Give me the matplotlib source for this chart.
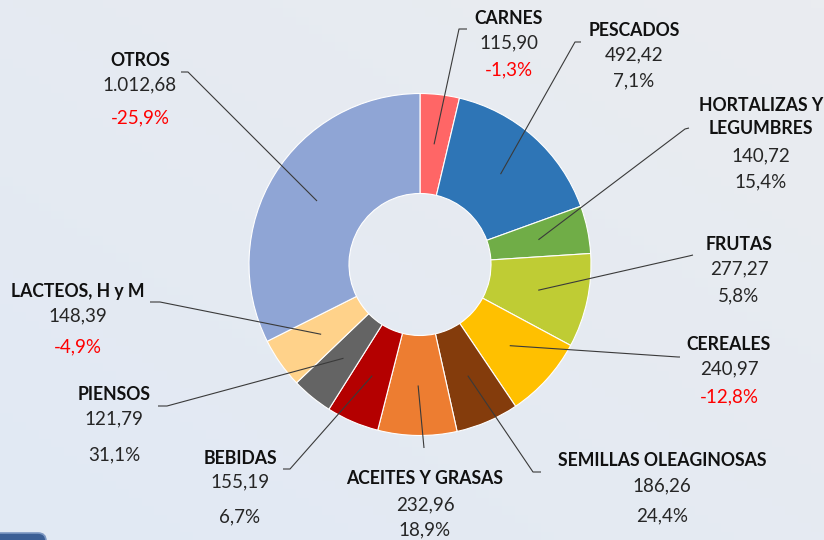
import matplotlib.pyplot as plt
from matplotlib.patches import FancyBboxPatch
import numpy as np

# data
categories = ["CARNES", "PESCADOS", "HORTALIZAS Y\nLEGUMBRES", "FRUTAS", "CEREALES",
              "SEMILLAS OLEAGINOSAS", "ACEITES Y GRASAS", "BEBIDAS", "PIENSOS",
              "LACTEOS, H y M", "OTROS"]
values = [115.90, 492.42, 140.72, 277.27, 240.97, 186.26, 232.96, 155.19, 121.79, 148.39, 1012.68]
value_labels = ["115,90", "492,42", "140,72", "277,27", "240,97", "186,26", "232,96",
                "155,19", "121,79", "148,39", "1.012,68"]
changes = [-1.3, 7.1, 15.4, 5.8, -12.8, 24.4, 18.9, 6.7, 31.1, -4.9, -25.9]

colors = ["#ff6666", "#2e75b6", "#70ad47", "#bfcc34", "#ffc000", "#843c0c",
          "#ed7d31", "#b40000", "#646464", "#ffd28a", "#8fa5d5"]

W, H = 824, 540

# label layout in pixel coords (y from top): x, y name, y value, y pct
label_pos = [
    (509, 18, 43, 70),
    (634, 31, 55, 81),
    (761, 117, 156, 182),
    (739, 244, 269, 296),
    (729, 345, 369, 397),
    (662, 461, 486, 516),
    (425, 479, 505, 530),
    (240, 458, 482, 517),
    (114, 395, 419, 455),
    (78, 292, 316, 347),
    (140, 61, 85, 118),
]
# leader line end points near the text (outer end, elbow)
leader_ends = [
    ((467, 29), (459, 29)),
    ((581, 42), (575, 42)),
    ((689, 128), (685, 129)),
    ((693, 255), (689, 256)),
    ((680, 357), (678, 357)),
    ((541, 472), (533, 472)),
    ((424, 448), (424, 448)),
    ((283, 469), (290, 469)),
    ((158, 406), (167, 406)),
    ((150, 302), (160, 302)),
    ((181, 72), (188, 72)),
]

def py(y):
    return H - y

plt.rcParams['font.family'] = ['Lato', 'DejaVu Sans']

fig = plt.figure(figsize=(W / 100, H / 100), dpi=100)
ax = fig.add_axes([0, 0, 1, 1])

# background gradient
gx = np.linspace(0, 1, 64)
gy = np.linspace(0, 1, 64)
GX, GY = np.meshgrid(gx, gy)
t = (GX + GY) / 2
c0 = np.array([0xe1, 0xe9, 0xf4]) / 255
c1 = np.array([0xea, 0xec, 0xf0]) / 255
img = c0[None, None, :] * (1 - t[..., None]) + c1[None, None, :] * t[..., None]
ax.imshow(img, extent=[0, W, H, 0], origin='upper', zorder=0, aspect='auto')

cx, cy = 420, py(264.5)
R, r_in = 171, 71
wedges, _ = ax.pie(values, colors=colors, startangle=90, counterclock=False,
                   radius=R, center=(cx, cy),
                   wedgeprops=dict(width=R - r_in, edgecolor='white', linewidth=0.8))
for w in wedges:
    w.set_zorder(2)

r_mid = (R + r_in) / 2
for i, w in enumerate(wedges):
    ang = np.deg2rad((w.theta1 + w.theta2) / 2)
    ax_x = cx + r_mid * np.cos(ang)
    ax_y = cy + r_mid * np.sin(ang)
    (ox, oy), (ex, ey) = leader_ends[i]
    ax.plot([ox, ex, ax_x], [py(oy), py(ey), ax_y], color="#3a3a3a", lw=0.8,
            zorder=3, solid_capstyle='butt')

    x, yn, yv, yp = label_pos[i]
    ax.text(x, py(yn), categories[i], ha='center', va='center', fontsize=12.7,
            fontweight='bold', color='#111111', linespacing=1.4, zorder=4)
    ax.text(x, py(yv), value_labels[i], ha='center', va='center', fontsize=13.5,
            color='#262626', zorder=4)
    pct = f"{changes[i]:.1f}%".replace(".", ",")
    ax.text(x, py(yp), pct, ha='center', va='center', fontsize=13.5,
            color='#ff0000' if changes[i] < 0 else '#262626', zorder=4)

# fragment of a slide element at the bottom left
ax.add_patch(FancyBboxPatch((-20, -20), 66, 27, boxstyle="round,pad=0,rounding_size=8",
                            facecolor="#3b5f95", edgecolor="#7d98c2", lw=1.2, zorder=1))

ax.set_xlim(0, W)
ax.set_ylim(0, H)
ax.set_aspect('auto')
ax.axis('off')

fig.savefig("out.png", dpi=100)
